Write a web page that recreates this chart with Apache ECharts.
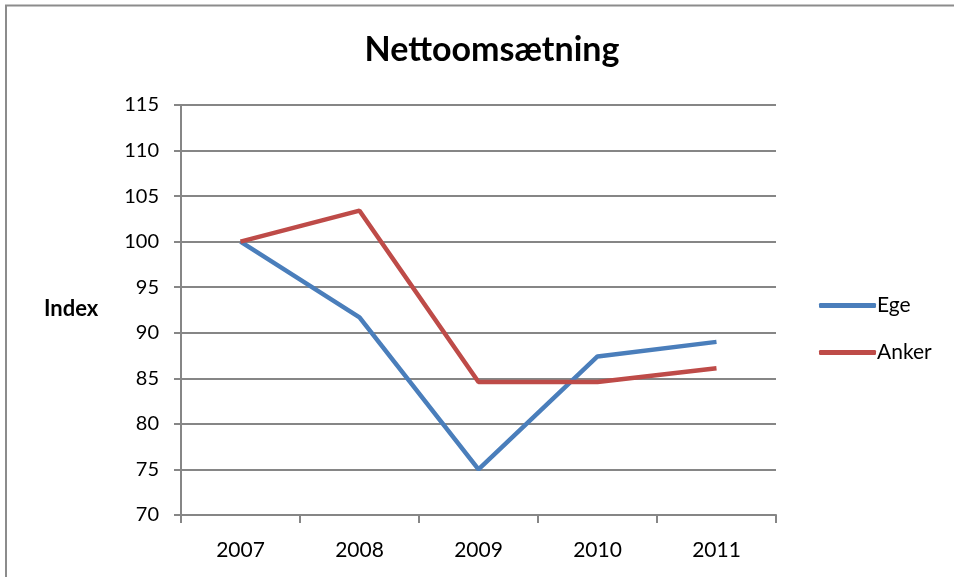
<!DOCTYPE html>
<html>
<head>
<meta charset="utf-8">
<script src="https://cdn.jsdelivr.net/npm/echarts@6/dist/echarts.min.js"></script>
<style>
html,body{margin:0;padding:0;background:#fff;}
#chart{width:954px;height:577px;}
</style>
</head>
<body>
<div id="chart"></div>
<script>
var categories = ['2007', '2008', '2009', '2010', '2011'];
var egeValues = [100, 91.7, 75, 87.4, 89.0];
var ankerValues = [100, 103.4, 84.6, 84.6, 86.1];
var titleText = 'Nettoomsætning';
var yAxisLabel = 'Index';

var chart = echarts.init(document.getElementById('chart'));
var font = 'Lato, "Open Sans", sans-serif';
var gray = '#868686';
chart.setOption({
  animation: false,
  backgroundColor: '#ffffff',
  title: {
    text: titleText,
    left: 487, textAlign: 'center',
    top: 28,
    textStyle: { fontFamily: font, fontWeight: 'bold', fontSize: 34, color: '#000' }
  },
  legend: {
    orient: 'vertical',
    left: 814,
    top: 290,
    itemGap: 26,
    itemWidth: 57,
    itemHeight: 5,
    icon: 'roundRect',
    textStyle: { fontFamily: font, fontSize: 21, color: '#000', padding: [0,0,0,-4] },
    data: ['Ege', 'Anker']
  },
  grid: { left: 181, right: 178, top: 105, bottom: 62 },
  xAxis: {
    type: 'category',
    data: categories,
    boundaryGap: true,
    axisLine: { lineStyle: { color: gray, width: 2 } },
    axisTick: { show: true, length: 8, inside: false, lineStyle: { color: gray, width: 2 } },
    axisLabel: { fontFamily: font, fontSize: 21, color: '#000', margin: 25 }
  },
  yAxis: {
    type: 'value',
    min: 70, max: 115, interval: 5,
    axisLine: { show: true, lineStyle: { color: gray, width: 2 } },
    axisTick: { show: true, length: 7, lineStyle: { color: gray, width: 2 } },
    axisLabel: { fontFamily: font, fontSize: 20, color: '#000', margin: 22 },
    splitLine: { show: true, lineStyle: { color: gray, width: 2 } }
  },
  graphic: [
    { type: 'polyline', shape: { points: [[6, 600], [6, 5.5], [960, 5.5]] }, style: { stroke: '#8c8c8c', lineWidth: 2, fill: null } },
    { type: 'text', left: 44, top: 298, style: { text: yAxisLabel, fontFamily: font, fontWeight: 'bold', fontSize: 22, fill: '#000' } }
  ],
  series: [
    { name: 'Ege', type: 'line', data: egeValues, showSymbol: false, symbol: 'none',
      lineStyle: { color: '#4a7ebb', width: 4.5 }, itemStyle: { color: '#4a7ebb' } },
    { name: 'Anker', type: 'line', data: ankerValues, showSymbol: false, symbol: 'none',
      lineStyle: { color: '#be4b48', width: 4.5 }, itemStyle: { color: '#be4b48' } }
  ]
});
</script>
</body>
</html>
